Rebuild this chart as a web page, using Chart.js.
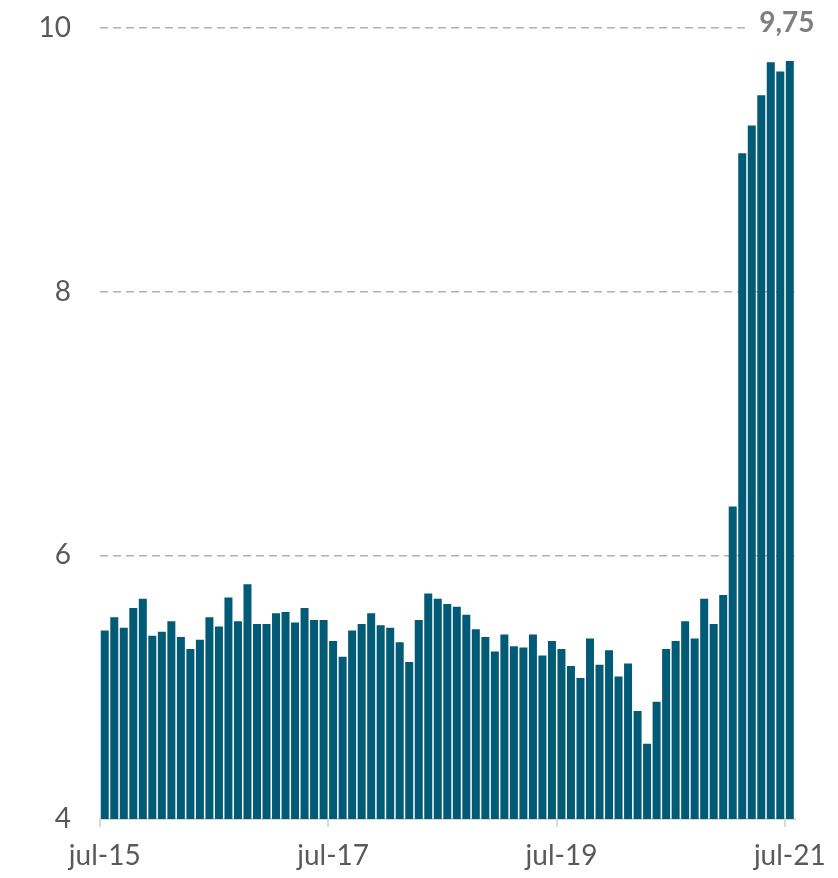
<!DOCTYPE html>
<html>
<head>
<meta charset="utf-8">
<script src="https://cdn.jsdelivr.net/npm/chart.js@4"></script>
<style>
  html, body { margin: 0; padding: 0; background: #ffffff; }
  #wrap { width: 838px; height: 878px; }
</style>
</head>
<body>
<div id="wrap"><canvas id="c" width="838" height="878"></canvas></div>
<script>
// Monthly categories jul-15 .. jul-21
const monthNames = ["ene","feb","mar","abr","may","jun","jul","ago","sep","oct","nov","dic"];
const categories = [];
for (let y = 2015, m = 6; y < 2021 || (y === 2021 && m <= 6); ) {
  categories.push(monthNames[m] + "-" + String(y).slice(2));
  m++; if (m > 11) { m = 0; y++; }
}

const values = [
  5.43, 5.53, 5.45, 5.60, 5.67, 5.39, 5.42, 5.50, 5.38, 5.29, 5.36, 5.53,
  5.46, 5.68, 5.50, 5.78, 5.48, 5.48, 5.56, 5.57, 5.49, 5.60, 5.51, 5.51,
  5.35, 5.23, 5.43, 5.48, 5.56, 5.47, 5.45, 5.34, 5.19, 5.51, 5.71, 5.67,
  5.63, 5.61, 5.55, 5.44, 5.38, 5.27, 5.40, 5.31, 5.30, 5.40, 5.24, 5.35,
  5.29, 5.16, 5.07, 5.37, 5.17, 5.28, 5.08, 5.18, 4.82, 4.57, 4.89, 5.29,
  5.35, 5.50, 5.37, 5.67, 5.48, 5.70, 6.37, 9.05, 9.26, 9.49, 9.74, 9.67,
  9.75
];

const tickLabels = ["jul-15", "jul-17", "jul-19", "jul-21"];
const yTicks = [4, 6, 8, 10];

const barColor = "#015B76";
const textColor = "#595959";

const lastValueLabel = {
  id: "lastValueLabel",
  afterDatasetsDraw(chart) {
    const meta = chart.getDatasetMeta(0);
    const i = values.length - 1;
    const bar = meta.data[i];
    const ys = chart.scales.y;
    const txt = values[i].toFixed(2).replace(".", ",");
    const ctx = chart.ctx;
    ctx.save();
    ctx.font = "bold 28px Lato";
    const w = ctx.measureText(txt).width;
    const cx = bar.x - 3;
    const base = ys.getPixelForValue(ys.max) + 4;
    ctx.fillStyle = "#ffffff";
    ctx.fillRect(cx - w / 2 - 10, base - 30, w + 20, 34);
    ctx.fillStyle = "#7f7f7f";
    ctx.textAlign = "center";
    ctx.textBaseline = "alphabetic";
    ctx.fillText(txt, cx, base);
    ctx.restore();
  }
};

new Chart(document.getElementById("c"), {
  type: "bar",
  data: {
    labels: categories,
    datasets: [{
      data: values,
      backgroundColor: barColor,
      borderWidth: 0,
      barPercentage: 1.0,
      categoryPercentage: 0.84
    }]
  },
  options: {
    responsive: false,
    animation: false,
    layout: { padding: { top: 28, right: 41, left: 0, bottom: 0 } },
    plugins: {
      legend: { display: false },
      tooltip: { enabled: false }
    },
    scales: {
      x: {
        type: "category",
        offset: true,
        afterFit: (s) => { s.height = 59; },
        grid: {
          offset: true,
          drawOnChartArea: false,
          drawTicks: true,
          tickLength: 8,
          lineWidth: 2,
          color: (ctx) => (ctx.index !== undefined && tickLabels.includes(categories[ctx.index])) ? "#d9d9d9" : "rgba(0,0,0,0)"
        },
        border: { display: true, color: "#d9d9d9", width: 2 },
        ticks: {
          autoSkip: false,
          maxRotation: 0,
          minRotation: 0,
          padding: 12,
          color: textColor,
          font: { family: "Lato", size: 28 },
          callback: (v, i) => tickLabels.includes(categories[i]) ? categories[i] : ""
        }
      },
      y: {
        min: 4,
        max: 10,
        afterFit: (s) => { s.width = 100; s.paddingTop = 0; s.paddingBottom = 0; },
        afterBuildTicks: (s) => { s.ticks = yTicks.map(v => ({ value: v })); },
        grid: {
          drawTicks: false,
          lineWidth: 1.5,
          color: (ctx) => (ctx.tick && ctx.tick.value === 4) ? "rgba(0,0,0,0)" : "#b0b0b0"
        },
        border: { display: false, dash: [8, 5] },
        ticks: {
          padding: 29,
          color: textColor,
          font: { family: "Lato", size: 28 }
        }
      }
    }
  },
  plugins: [lastValueLabel]
});
</script>
</body>
</html>
